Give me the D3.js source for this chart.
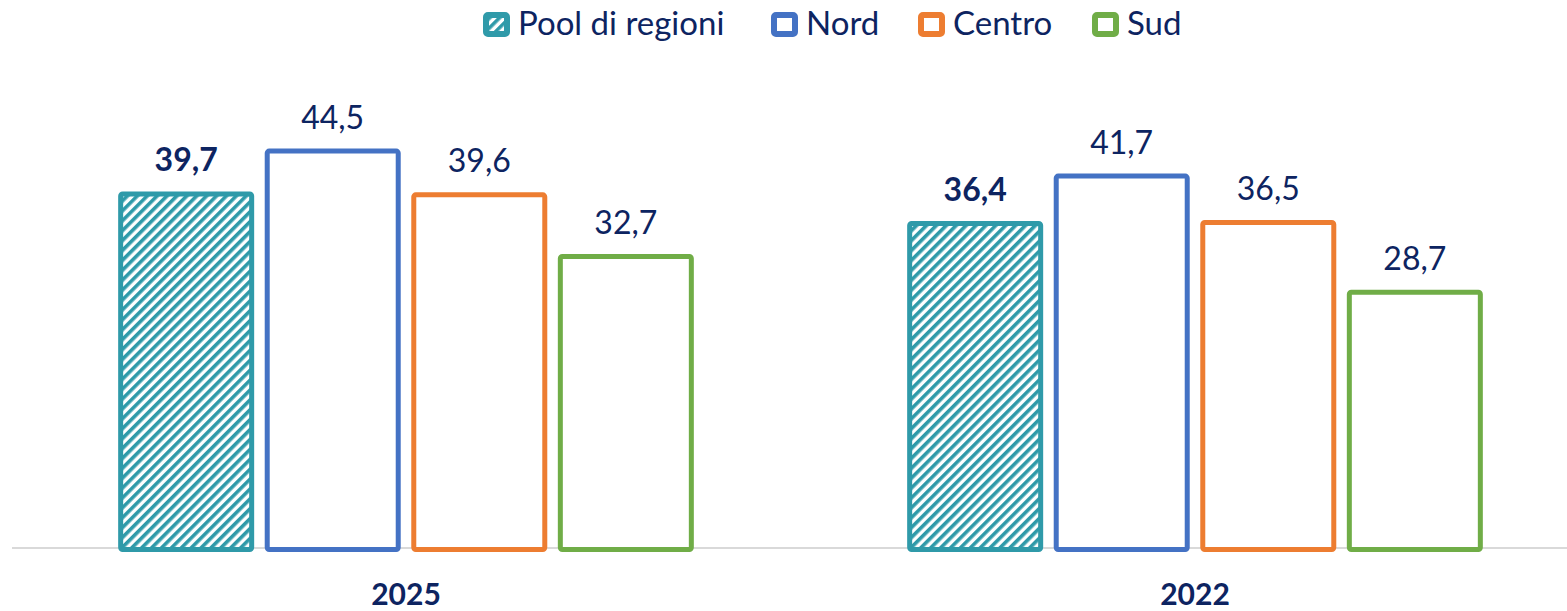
<!doctype html>
<html>
<head>
<meta charset="utf-8">
<title>Pool di regioni</title>
<style>
  body { margin: 0; background: #fff; }
  svg { display: block; font-family: Lato, "Open Sans", sans-serif; }
</style>
</head>
<body>
<svg></svg>
<script src="https://cdnjs.cloudflare.com/ajax/libs/d3/7.8.5/d3.min.js"></script>
<script>
var years = ["2025", "2022"];
var series = ["Pool di regioni", "Nord", "Centro", "Sud"];
var pool = [39.7, 36.4];
var nord = [44.5, 41.7];
var centro = [39.6, 36.5];
var sud = [32.7, 28.7];
var colors = ["#2f9aa9", "#4472c4", "#ed7d31", "#70ad47"];

var width = 1567, height = 611;
var baseY = 547;
var textColor = "#0d2461";

var svg = d3.select("svg").attr("width", width).attr("height", height);

var defs = svg.append("defs");
var pat = defs.append("pattern")
  .attr("id", "hatch")
  .attr("patternUnits", "userSpaceOnUse")
  .attr("width", 7).attr("height", 7)
  .attr("patternTransform", "rotate(45)");
pat.append("rect").attr("width", 7).attr("height", 7).attr("fill", "#fff");
pat.append("rect").attr("width", 3.6).attr("height", 7).attr("fill", colors[0]);

var x0 = d3.scaleBand().domain(years).range([11.5, 1589.5])
  .paddingInner(0.257).paddingOuter(0.1285);
var x1 = d3.scaleBand().domain(series).range([0, x0.bandwidth()])
  .paddingInner(0.072).paddingOuter(0.036);
var y = d3.scaleLinear().domain([0, 50]).range([baseY, baseY - 446.5]);

var rows = years.map(function(yr, i) {
  return { year: yr, values: [pool[i], nord[i], centro[i], sud[i]] };
});

// axis line
svg.append("line")
  .attr("x1", 12).attr("x2", 1567)
  .attr("y1", baseY + 1).attr("y2", baseY + 1)
  .attr("stroke", "#d9d9d9").attr("stroke-width", 2);

var sw = 5;
var groups = svg.selectAll("g.year").data(rows).enter().append("g")
  .attr("class", "year")
  .attr("transform", function(d) { return "translate(" + x0(d.year) + ",0)"; });

groups.selectAll("rect").data(function(d) { return d.values; }).enter().append("rect")
  .attr("x", function(v, i) { return x1(series[i]) + sw / 2; })
  .attr("y", function(v) { return y(v) + sw / 2 - 1; })
  .attr("width", x1.bandwidth() - sw)
  .attr("height", function(v) { return baseY - y(v) + 1; })
  .attr("rx", 2)
  .attr("fill", function(v, i) { return i === 0 ? "url(#hatch)" : "#fff"; })
  .attr("stroke", function(v, i) { return colors[i]; })
  .attr("stroke-width", sw);

groups.selectAll("text.val").data(function(d) { return d.values; }).enter().append("text")
  .attr("class", "val")
  .attr("x", function(v, i) { return x1(series[i]) + x1.bandwidth() / 2; })
  .attr("y", function(v) { return y(v) - 21; })
  .attr("text-anchor", "middle")
  .attr("fill", textColor)
  .attr("font-size", 32)
  .attr("font-weight", function(v, i) { return i === 0 ? "bold" : "normal"; })
  .text(function(v) { return d3.format(".1f")(v).replace(".", ","); });

svg.selectAll("text.year").data(years).enter().append("text")
  .attr("class", "year")
  .attr("x", function(d) { return x0(d) + x0.bandwidth() / 2; })
  .attr("y", 605)
  .attr("text-anchor", "middle")
  .attr("fill", textColor)
  .attr("font-size", 30)
  .attr("font-weight", "bold")
  .text(function(d) { return d; });

// legend
var legX = [483, 771, 918, 1092];
var leg = svg.selectAll("g.leg").data(series).enter().append("g")
  .attr("class", "leg")
  .attr("transform", function(d, i) { return "translate(" + legX[i] + ",12)"; });
leg.append("rect")
  .attr("x", 3).attr("y", 3)
  .attr("width", 21).attr("height", 19)
  .attr("rx", 2)
  .attr("fill", function(d, i) { return i === 0 ? "url(#hatch)" : "#fff"; })
  .attr("stroke", function(d, i) { return colors[i]; })
  .attr("stroke-width", i => 6);
leg.append("text")
  .attr("x", 35).attr("y", 23)
  .attr("fill", textColor)
  .attr("font-size", 33)
  .text(function(d) { return d; });
</script>
</body>
</html>
